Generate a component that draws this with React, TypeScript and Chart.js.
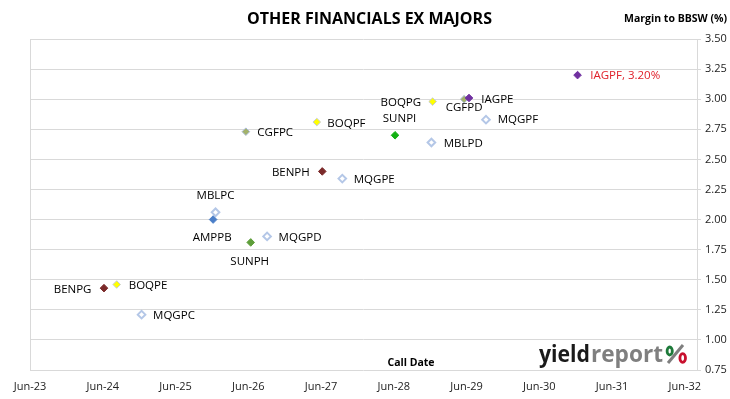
import { useEffect, useRef } from "react";
import { Chart, registerables } from "chart.js";

Chart.register(...registerables);

// ---- data ----
const bondCodes = [
  "BENPG", "BOQPE", "MQGPC", "MBLPC", "AMPPB", "CGFPC", "SUNPH", "MQGPD", "BOQPF",
  "BENPH", "MQGPE", "SUNPI", "BOQPG", "MBLPD", "CGFPD", "IAGPE", "MQGPF", "IAGPF",
];
const callDates = [
  "2024-06-07", "2024-08-10", "2024-12-13", "2025-12-19", "2025-12-07", "2026-05-19",
  "2026-06-13", "2026-09-04", "2027-05-10", "2027-06-07", "2027-09-16", "2028-06-07",
  "2028-12-13", "2028-12-07", "2029-05-19", "2029-06-13", "2029-09-07", "2030-12-10",
];
const marginsToBBSW = [
  1.43, 1.46, 1.21, 2.06, 2.0, 2.73, 1.81, 1.86, 2.81,
  2.4, 2.34, 2.7, 2.98, 2.64, 3.0, 3.01, 2.83, 3.2,
];
const highlightCode = "IAGPF";
const xTickLabels = ["Jun-23", "Jun-24", "Jun-25", "Jun-26", "Jun-27", "Jun-28", "Jun-29", "Jun-30", "Jun-31", "Jun-32"];
const yTickValues = [0.75, 1.0, 1.25, 1.5, 1.75, 2.0, 2.25, 2.5, 2.75, 3.0, 3.25, 3.5];
const titleText = "OTHER FINANCIALS EX MAJORS";
const yAxisTitle = "Margin to BBSW (%)";
const xAxisTitle = "Call Date";

// ---- styles ----
const FONT = "'Open Sans', 'Liberation Sans', sans-serif";
const GRID = "#D9D9D9";
const HOLLOW = "#B4C7E7";
const pointStyles: Record<string, { fill: string; border: string; width: number }> = {
  BEN: { fill: "#7B2A2A", border: "#7B2A2A", width: 1 },
  BOQ: { fill: "#FFFF00", border: "#C4CAD6", width: 1 },
  MQG: { fill: "#FFFFFF", border: HOLLOW, width: 2 },
  MBL: { fill: "#FFFFFF", border: HOLLOW, width: 2 },
  AMP: { fill: "#4A7EC8", border: "#4A7EC8", width: 1 },
  CGF: { fill: "#A3B26A", border: "#A9BAD6", width: 1 },
  SUNH: { fill: "#5E9E3A", border: "#5E9E3A", width: 1 },
  SUNI: { fill: "#12B012", border: "#12B012", width: 1 },
  IAG: { fill: "#7030A0", border: "#7030A0", width: 1 },
};
const styleFor = (code: string) => {
  if (code.startsWith("SUN")) return code.endsWith("H") ? pointStyles.SUNH : pointStyles.SUNI;
  return pointStyles[code.slice(0, 3)];
};
// label placement: [dx, dy, align]
const labelPlacement: Record<string, [number, number, CanvasTextAlign]> = {
  BENPG: [-12.5, 1.5, "right"],
  BOQPE: [12, 1.5, "left"],
  MQGPC: [11.5, 1.5, "left"],
  MBLPC: [0, -17, "center"],
  AMPPB: [-1, 18.5, "center"],
  CGFPC: [11.5, 1.3, "left"],
  SUNPH: [-1, 19, "center"],
  MQGPD: [11.5, 1.3, "left"],
  BOQPF: [10.5, 1.3, "left"],
  BENPH: [-12.5, 1.3, "right"],
  MQGPE: [11.5, 1.3, "left"],
  SUNPI: [4.5, -16.5, "center"],
  BOQPG: [-11.5, 1, "right"],
  MBLPD: [12.3, 1, "left"],
  CGFPD: [0, 9, "center"],
  IAGPE: [12.3, 1.3, "left"],
  MQGPF: [11.7, 0.5, "left"],
  IAGPF: [12.7, 0.5, "left"],
};

const toMonths = (s: string) => {
  const [y, m, d] = s.split("-").map(Number);
  return (y - 2023) * 12 + (m - 6) + (d - 1) / 30;
};

export default function App() {
  const ref = useRef<HTMLCanvasElement>(null);

  useEffect(() => {
    const prev = document.body.style.margin;
    document.body.style.margin = "0";
    const canvas = ref.current!;
    const points = bondCodes.map((c, i) => ({ x: toMonths(callDates[i]), y: marginsToBBSW[i] }));
    const styles = bondCodes.map(styleFor);

    const overlay = {
      id: "overlay",
      beforeDatasetsDraw(chart: any) {
        const { ctx, chartArea: a } = chart;
        ctx.save();
        ctx.strokeStyle = GRID;
        ctx.lineWidth = 1;
        ctx.beginPath();
        ctx.moveTo(Math.round(a.left) + 0.5, a.top);
        ctx.lineTo(Math.round(a.left) + 0.5, a.bottom);
        ctx.stroke();
        ctx.restore();
      },
      afterDatasetsDraw(chart: any) {
        const { ctx } = chart;
        const meta = chart.getDatasetMeta(0);
        ctx.save();
        ctx.font = `11.5px ${FONT}`;
        ctx.textBaseline = "middle";
        meta.data.forEach((el: any, i: number) => {
          const code = bondCodes[i];
          const [dx, dy, align] = labelPlacement[code];
          const text = code === highlightCode ? `${code}, ${marginsToBBSW[i].toFixed(2)}%` : code;
          ctx.fillStyle = code === highlightCode ? "#E0202A" : "#000000";
          ctx.textAlign = align;
          ctx.fillText(text, el.x + dx, el.y + dy);
        });
        ctx.restore();
      },
      afterDraw(chart: any) {
        const { ctx } = chart;
        ctx.save();
        ctx.textBaseline = "middle";
        ctx.fillStyle = "#000000";
        ctx.font = `bold 16px ${FONT}`;
        ctx.textAlign = "center";
        ctx.fillText(titleText, 369.5, 19);
        ctx.font = `bold 10.5px ${FONT}`;
        ctx.textAlign = "right";
        ctx.fillText(yAxisTitle, 727, 19);
        ctx.textAlign = "center";
        ctx.fillText(xAxisTitle, 411, 363);

        // logo
        const base = 361.5;
        ctx.textBaseline = "alphabetic";
        ctx.textAlign = "left";
        ctx.font = `bold 24px ${FONT}`;
        const drawFit = (t: string, x: number, w: number, color: string) => {
          const mw = ctx.measureText(t).width;
          ctx.save();
          ctx.translate(x, base);
          ctx.scale(w / mw, 1);
          ctx.fillStyle = color;
          ctx.fillText(t, 0, 0);
          ctx.restore();
        };
        drawFit("yield", 539, 51, "#1A1A1A");
        drawFit("report", 591, 72, "#7F7F7F");
        ctx.strokeStyle = "#7F7F7F";
        ctx.lineWidth = 3;
        ctx.beginPath();
        ctx.moveTo(668, 363);
        ctx.lineTo(683, 345);
        ctx.stroke();
        ctx.lineWidth = 2.8;
        ctx.strokeStyle = "#1E7A3A";
        ctx.beginPath();
        ctx.ellipse(669.7, 351, 2.6, 4, 0, 0, Math.PI * 2);
        ctx.stroke();
        ctx.strokeStyle = "#C8102E";
        ctx.beginPath();
        ctx.ellipse(682.7, 358, 2.8, 4.4, 0, 0, Math.PI * 2);
        ctx.stroke();
        ctx.restore();
      },
    };

    const chart = new Chart(canvas, {
      type: "scatter",
      data: {
        datasets: [
          {
            data: points,
            pointStyle: "rectRot",
            pointRadius: 3.8,
            pointHoverRadius: 3.8,
            backgroundColor: styles.map((s) => s.fill),
            borderColor: styles.map((s) => s.border),
            borderWidth: styles.map((s) => s.width),
          },
        ],
      },
      options: {
        responsive: false,
        animation: false,
        layout: { padding: { left: 30, top: 39, right: 0, bottom: 0 } },
        plugins: { legend: { display: false }, tooltip: { enabled: false }, title: { display: false } },
        scales: {
          x: {
            type: "linear",
            min: 0,
            max: 110,
            grid: { display: false },
            border: { display: false },
            afterBuildTicks: (s: any) => {
              s.ticks = xTickLabels.map((_, i) => ({ value: i * 12 }));
            },
            afterFit: (s: any) => {
              s.height = 29;
            },
            ticks: {
              autoSkip: false,
              maxRotation: 0,
              padding: 2,
              color: "#222222",
              font: { family: FONT, size: 11 },
              callback: (_v: any, i: number) => xTickLabels[i],
            },
          },
          y: {
            position: "right",
            min: 0.75,
            max: 3.5,
            grid: { color: GRID, lineWidth: 1, tickLength: 4 },
            border: { color: GRID },
            afterBuildTicks: (s: any) => {
              s.ticks = yTickValues.map((v) => ({ value: v }));
            },
            afterFit: (s: any) => {
              s.width = 33;
            },
            ticks: {
              padding: 4,
              color: "#222222",
              font: { family: FONT, size: 11 },
              callback: (v: any) => Number(v).toFixed(2),
            },
          },
        },
      },
      plugins: [overlay],
    } as any);

    return () => {
      chart.destroy();
      document.body.style.margin = prev;
    };
  }, []);

  return (
    <div style={{ position: "absolute", left: 0, top: 0, width: 730, height: 399, background: "#fff" }}>
      <canvas ref={ref} width={730} height={399} style={{ display: "block" }} />
    </div>
  );
}
